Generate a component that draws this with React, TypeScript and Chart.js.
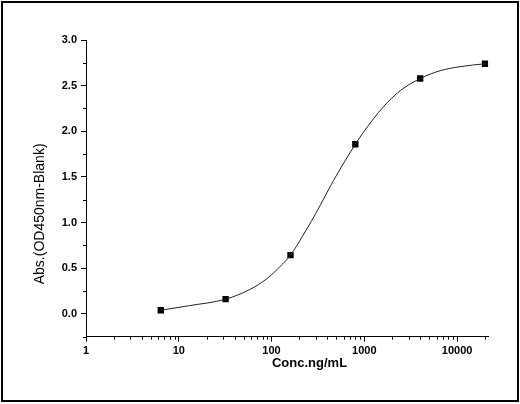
import { useEffect, useRef } from "react";
import { Chart, registerables } from "chart.js";

Chart.register(...registerables);

// Measured standards (concentration in ng/mL, absorbance)
const concentrations = [6.4, 32, 160, 800, 4000, 20000];
const absorbance = [0.04, 0.161, 0.643, 1.858, 2.578, 2.74];

// Fitted curve
const fitConc = [6.4, 13, 32, 59, 89, 124, 160, 240, 300, 465, 800, 980, 1610, 2440, 4000, 6600, 10800, 20000];
const fitAbs = [0.04, 0.09, 0.161, 0.27, 0.385, 0.52, 0.643, 0.93, 1.1, 1.46, 1.858, 1.99, 2.27, 2.445, 2.578, 2.664, 2.708, 2.74];

// Axis ticks
const xMajorTicks = [1, 10, 100, 1000, 10000];
const xTickLabels = ["1", "10", "100", "1000", "10000"];
const xMinorTicks = [
  2, 3, 4, 5, 6, 7, 8, 9,
  20, 30, 40, 50, 60, 70, 80, 90,
  200, 300, 400, 500, 600, 700, 800, 900,
  2000, 3000, 4000, 5000, 6000, 7000, 8000, 9000,
  20000,
];
const yMajorTicks = [0, 0.5, 1, 1.5, 2, 2.5, 3];
const yTickLabels = ["0.0", "0.5", "1.0", "1.5", "2.0", "2.5", "3.0"];
const yMinorTicks = [-0.25, 0.25, 0.75, 1.25, 1.75, 2.25, 2.75];

const xMin = 1;
const xMax = 21700;
const yMin = -0.25;
const yMax = 3.0;

const xTitle = "Conc.ng/mL";
const yTitle = "Abs.(OD450nm-Blank)";

const FONT = '"Liberation Sans", Arial, Helvetica, sans-serif';

const decorPlugin = {
  id: "decor",
  afterDraw(chart: any) {
    const { ctx, chartArea, scales } = chart;
    const xs = scales.x;
    const ys = scales.y;
    ctx.save();
    ctx.strokeStyle = "#000";
    ctx.lineWidth = 1;
    ctx.beginPath();
    for (const v of xMinorTicks) {
      const px = Math.round(xs.getPixelForValue(v)) + 0.5;
      ctx.moveTo(px, chartArea.bottom);
      ctx.lineTo(px, chartArea.bottom + 3);
    }
    for (const v of yMinorTicks) {
      const py = Math.round(ys.getPixelForValue(v)) + 0.5;
      ctx.moveTo(chartArea.left, py);
      ctx.lineTo(chartArea.left - 3, py);
    }
    ctx.stroke();

    ctx.fillStyle = "#000";
    ctx.textAlign = "center";
    ctx.textBaseline = "middle";
    ctx.font = `bold 13px ${FONT}`;
    const w = chartArea.right - chartArea.left;
    const h = chartArea.bottom - chartArea.top;
    ctx.fillText(xTitle, chartArea.left + w * 0.5556, chartArea.bottom + 27);

    ctx.translate(40, chartArea.top + h * 0.586);
    ctx.rotate(-Math.PI / 2);
    ctx.font = `14px ${FONT}`;
    ctx.fillText(yTitle, 0, 0);
    ctx.restore();
  },
};

export default function App() {
  const ref = useRef<HTMLCanvasElement>(null);

  useEffect(() => {
    if (!ref.current) return;
    const chart = new Chart(ref.current, {
      type: "scatter",
      data: {
        datasets: [
          {
            label: "fit",
            data: fitConc.map((x, i) => ({ x, y: fitAbs[i] })),
            showLine: true,
            borderColor: "#222",
            borderWidth: 1,
            pointRadius: 0,
            cubicInterpolationMode: "monotone",
            fill: false,
          } as any,
          {
            label: "standards",
            data: concentrations.map((x, i) => ({ x, y: absorbance[i] })),
            showLine: false,
            pointStyle: "rect",
            pointRadius: 4.5,
            backgroundColor: "#000",
            borderColor: "#000",
            borderWidth: 0,
          },
        ],
      },
      options: {
        responsive: false,
        animation: false,
        devicePixelRatio: 1,
        layout: { padding: { left: 0, top: 40, right: 31.7, bottom: 0 } },
        plugins: {
          legend: { display: false },
          tooltip: { enabled: false },
        },
        scales: {
          x: {
            type: "logarithmic",
            min: xMin,
            max: xMax,
            afterBuildTicks: (scale: any) => {
              scale.ticks = xMajorTicks.map((v) => ({ value: v, major: true }));
            },
            afterFit: (scale: any) => {
              scale.height = 67.3;
            },
            border: { display: true, color: "#000", width: 1 },
            grid: {
              display: true,
              drawOnChartArea: false,
              drawTicks: true,
              tickLength: 5,
              tickColor: "#000",
              tickWidth: 1,
            },
            ticks: {
              autoSkip: false,
              maxRotation: 0,
              padding: 3,
              color: "#000",
              font: { family: FONT, size: 11, weight: "bold" },
              callback: (_v: any, i: number) => xTickLabels[i],
            },
          },
          y: {
            type: "linear",
            min: yMin,
            max: yMax,
            afterBuildTicks: (scale: any) => {
              scale.ticks = yMajorTicks.map((v) => ({ value: v }));
            },
            afterFit: (scale: any) => {
              scale.width = 86;
            },
            border: { display: true, color: "#000", width: 1 },
            grid: {
              display: true,
              drawOnChartArea: false,
              drawTicks: true,
              tickLength: 5,
              tickColor: "#000",
              tickWidth: 1,
            },
            ticks: {
              autoSkip: false,
              padding: 4,
              color: "#000",
              font: { family: FONT, size: 11, weight: "bold" },
              callback: (_v: any, i: number) => yTickLabels[i],
            },
          },
        },
      },
      plugins: [decorPlugin],
    });
    return () => chart.destroy();
  }, []);

  return (
    <div
      style={{
        position: "fixed",
        left: 0,
        top: 0,
        width: 520,
        height: 404,
        background: "#fff",
      }}
    >
      <canvas
        ref={ref}
        width={520}
        height={404}
        style={{ position: "absolute", left: 0, top: 0, width: 520, height: 404 }}
      />
      <div
        style={{
          position: "absolute",
          left: 1,
          top: 1,
          width: 518,
          height: 401,
          border: "2px solid #000",
          boxSizing: "border-box",
          pointerEvents: "none",
        }}
      />
    </div>
  );
}
